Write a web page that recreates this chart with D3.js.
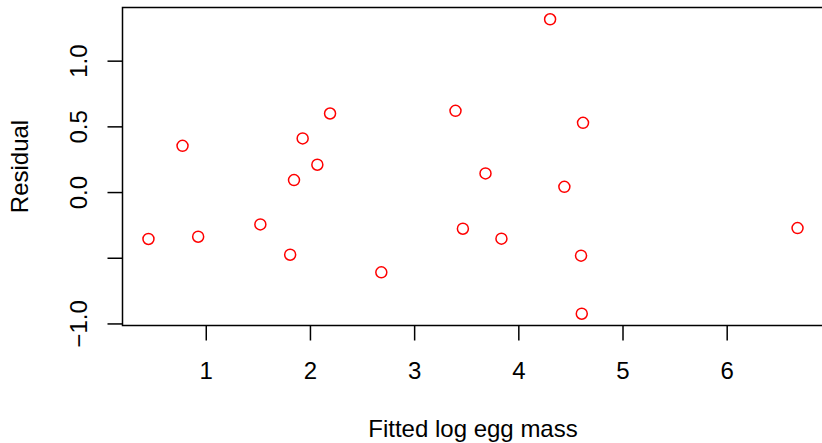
<!DOCTYPE html>
<html>
<head>
<meta charset="utf-8">
<script src="https://cdn.jsdelivr.net/npm/d3@7"></script>
<style>
  html, body { margin: 0; padding: 0; background: #fff; }
  svg text { font-family: "Liberation Sans", Arial, Helvetica, sans-serif; fill: #000; }
</style>
</head>
<body>
<svg width="822" height="443"></svg>
<script>
// fitted values vs residuals
const fitted = [0.45, 0.777, 0.927, 1.524, 1.81, 1.847, 1.93, 2.071, 2.193, 2.685,
	3.397, 3.468, 3.685, 3.838, 4.305, 4.442, 4.602, 4.609, 4.621, 6.68]
const residual = [-0.357, 0.352, -0.34, -0.246, -0.477, 0.091, 0.408, 0.208, 0.598, -0.611,
	0.618, -0.279, 0.142, -0.355, 1.315, 0.04, -0.484, -0.926, 0.527, -0.274]
const xTicks = [1, 2, 3, 4, 5, 6]
const yTicks = [-1, -0.5, 0, 0.5, 1]
const yLabels = ['\u22121.0', '', '0.0', '0.5', '1.0'] // R drops -0.5, it would overlap

const svg = d3.select('svg')
const plotL = 122.5, plotR = 823.5, plotT = 7.5, plotB = 325.5

// R style axis limits: data range padded by 4%
const pad = ext => { const r = ext[1] - ext[0]; return [ext[0] - 0.04 * r, ext[1] + 0.04 * r] }

const x = d3.scaleLinear().domain(pad(d3.extent(fitted))).range([plotL, plotR])
const y = d3.scaleLinear().domain(pad(d3.extent(residual))).range([plotB, plotT])

const points = fitted.map((f, i) => ({x: f, y: residual[i]}))

// box
svg.append('rect')
	.attr('x', plotL).attr('y', plotT)
	.attr('width', plotR - plotL).attr('height', plotB - plotT)
	.attr('fill', 'none').attr('stroke', '#000').attr('stroke-width', 1.5)

const xAxis = svg.append('g')
	.attr('transform', `translate(0,${plotB})`)
	.call(d3.axisBottom(x).tickValues(xTicks).tickSize(15).tickSizeOuter(0).tickFormat(d3.format('d')))
xAxis.select('.domain').remove()
xAxis.selectAll('line').attr('stroke-width', 1.5)
xAxis.selectAll('text')
	.attr('y', 53).attr('dy', 0)
	.style('font-size', '24px')

const yAxis = svg.append('g')
	.attr('transform', `translate(${plotL},0)`)
	.call(d3.axisLeft(y).tickValues(yTicks).tickSize(15).tickSizeOuter(0).tickFormat((d, i) => yLabels[i]))
yAxis.select('.domain').remove()
yAxis.selectAll('line').attr('stroke-width', 1.5)
yAxis.selectAll('text')
	.attr('x', 0).attr('dy', 0)
	.attr('text-anchor', 'middle')
	.attr('transform', 'translate(-36,0) rotate(-90)')
	.style('font-size', '24px')

svg.append('g')
	.selectAll('circle')
	.data(points)
	.join('circle')
	.attr('cx', d => x(d.x))
	.attr('cy', d => y(d.y))
	.attr('r', 5.5)
	.attr('fill', 'none')
	.attr('stroke', '#ff0000')
	.attr('stroke-width', 1.5)

svg.append('text')
	.attr('x', (plotL + plotR) / 2)
	.attr('y', 437)
	.attr('text-anchor', 'middle')
	.style('font-size', '24px')
	.text('Fitted log egg mass')

svg.append('text')
	.attr('transform', `translate(28,${(plotT + plotB) / 2}) rotate(-90)`)
	.attr('text-anchor', 'middle')
	.style('font-size', '24px')
	.text('Residual')
</script>
</body>
</html>
